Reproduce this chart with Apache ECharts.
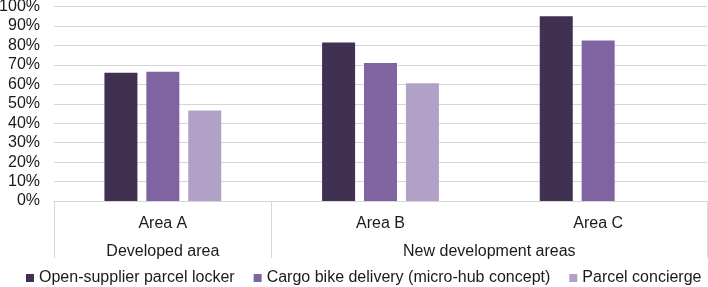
<!DOCTYPE html>
<html>
<head>
<meta charset="utf-8">
<script src="https://cdn.jsdelivr.net/npm/echarts@6/dist/echarts.min.js"></script>
<style>
  html, body { margin: 0; padding: 0; background: #fff; }
  #chart { width: 708px; height: 287px; }
</style>
</head>
<body>
<div id="chart"></div>
<script>
const areas = ['Area A', 'Area B', 'Area C']
const groupLabels = ['Developed area', 'New development areas']
const groupSpans = [1, 2]
const seriesNames = ['Open-supplier parcel locker', 'Cargo bike delivery (micro-hub concept)', 'Parcel concierge']
const lockerValues = [66, 81.5, 95]
const cargoBikeValues = [66.5, 71, 82.5]
const conciergeValues = [46.5, 60.5, null]
const colors = ['#403152', '#8064A2', '#B2A1C7']

const font = "'Liberation Sans', Arial, sans-serif"
const textColor = '#1a1a1a'
const lineColor = '#D6D6D6'

// group boundaries and centres on a 0..n scale
const bounds = [0]
const centres = []
groupSpans.forEach(s => {
  const start = bounds[bounds.length - 1]
  centres.push(start + s / 2)
  bounds.push(start + s)
})

const chart = echarts.init(document.getElementById('chart'))

chart.setOption({
  animation: false,
  textStyle: { fontFamily: font },
  grid: { left: 54, right: 1, top: 6.5, bottom: 86, outerBoundsMode: 'none' },
  legend: {
    data: seriesNames,
    top: 265,
    left: 21,
    itemWidth: 8,
    itemHeight: 8,
    itemGap: 19,
    icon: 'rect',
    textStyle: { fontSize: 16, color: textColor, fontFamily: font }
  },
  xAxis: [
    {
      type: 'category',
      data: areas,
      axisLine: { show: true, lineStyle: { color: lineColor } },
      axisTick: { show: false },
      axisLabel: { fontSize: 16, color: textColor, margin: 15 }
    },
    {
      type: 'value',
      position: 'bottom',
      min: 0,
      max: areas.length,
      axisLine: { show: false },
      splitLine: { show: false },
      axisTick: {
        show: true,
        customValues: bounds,
        length: 57,
        lineStyle: { color: lineColor }
      },
      axisLabel: {
        customValues: centres,
        fontSize: 16,
        color: textColor,
        margin: 43,
        formatter: v => groupLabels[centres.indexOf(v)]
      }
    }
  ],
  yAxis: {
    type: 'value',
    min: 0,
    max: 100,
    interval: 10,
    axisLine: { show: false },
    axisTick: { show: false },
    splitLine: { lineStyle: { color: lineColor } },
    axisLabel: { formatter: '{value}%', fontSize: 16, color: textColor, margin: 14 }
  },
  series: [lockerValues, cargoBikeValues, conciergeValues].map((vals, i) => ({
    name: seriesNames[i],
    type: 'bar',
    xAxisIndex: 0,
    data: vals,
    barWidth: 33,
    barGap: '27%',
    itemStyle: { color: colors[i] }
  }))
})
</script>
</body>
</html>
